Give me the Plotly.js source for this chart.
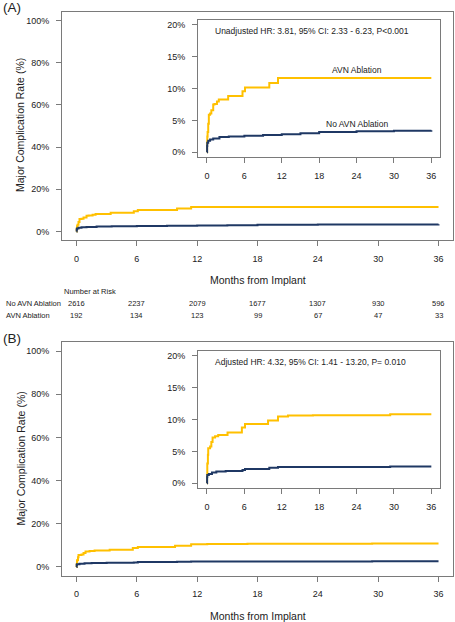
<!DOCTYPE html>
<html><head><meta charset="utf-8">
<script src="https://cdn.plot.ly/plotly-3.0.1.min.js"></script>
<style>html,body{margin:0;padding:0;background:#fff}#chart{width:455px;height:622px}</style>
</head><body><div id="chart"></div>
<script>
// ---------- data ----------
const riskMonths = [0, 6, 12, 18, 24, 30, 36];
const riskNoAvn = [2616, 2237, 2079, 1677, 1307, 930, 596];
const riskAvn = [192, 134, 123, 99, 67, 47, 33];

// Panel A (unadjusted) cumulative incidence, %
const aAvnT   = [0, 0.02, 0.05, 0.1, 0.2, 0.3, 0.5, 0.7, 1.0, 1.2, 1.6, 1.9, 3.4, 5.7, 6.1, 10.0, 11.4, 36];
const aAvnY   = [0, 1.5, 2.5, 3.2, 4.5, 5.9, 6.1, 6.6, 7.5, 7.6, 8.0, 8.3, 8.85, 9.6, 10.2, 10.9, 11.67, 11.67];
const aNoT    = [0, 0.02, 0.05, 0.2, 0.5, 1, 2, 3.5, 6, 9, 12, 15, 18, 24, 30, 36];
const aNoY    = [0, 1.0, 1.5, 1.8, 2.0, 2.15, 2.4, 2.5, 2.6, 2.7, 2.85, 3.0, 3.2, 3.3, 3.4, 3.45];

// Panel B (adjusted) cumulative incidence, %
const bAvnT   = [0, 0.02, 0.05, 0.15, 0.2, 0.5, 0.7, 0.9, 1.3, 1.8, 3.3, 5.6, 6.1, 9.8, 11.4, 13, 17, 29.4, 36];
const bAvnY   = [0, 1.3, 3.1, 4.5, 5.5, 5.8, 6.5, 7.2, 7.4, 7.6, 8.0, 8.75, 9.3, 9.85, 10.5, 10.65, 10.7, 10.85, 10.85];
const bNoT    = [0, 0.02, 0.05, 0.3, 0.8, 1.5, 3, 5.7, 6.1, 10, 11.4, 29.4, 36];
const bNoY    = [0, 1.0, 1.3, 1.45, 1.7, 1.85, 1.95, 2.1, 2.25, 2.45, 2.55, 2.65, 2.65];

const mainTicks = [0, 20, 40, 60, 80, 100];
const insetTicks = [0, 5, 10, 15, 20];
const xTicks = [0, 6, 12, 18, 24, 30, 36];

const hrA = 'Unadjusted HR: 3.81, 95% CI: 2.33 - 6.23, P<0.001';
const hrB = 'Adjusted HR: 4.32, 95% CI: 1.41 - 13.20, P= 0.010';

// ---------- style ----------
const W = 455, H = 622;
const GOLD = '#FFC000', NAVY = '#1F3864';
const FONT = 'Liberation Sans, Arial, sans-serif';
const TXT = '#222';
const FRAME = '#7a7a7a';
const fx = p => p / W;
const fy = p => 1 - p / H;

function curve(t, y, color, xa, ya, w) {
  return {x: t, y: y, xaxis: xa, yaxis: ya, type: 'scatter', mode: 'lines',
    line: {shape: 'hv', color: color, width: w}, hoverinfo: 'skip', showlegend: false};
}

const traces = [
  curve(aAvnT, aAvnY, GOLD, 'x', 'y', 2), curve(aNoT, aNoY, NAVY, 'x', 'y', 2),
  curve(aAvnT, aAvnY, GOLD, 'x2', 'y2', 2), curve(aNoT, aNoY, NAVY, 'x2', 'y2', 2),
  curve(bAvnT, bAvnY, GOLD, 'x3', 'y3', 2), curve(bNoT, bNoY, NAVY, 'x3', 'y3', 2),
  curve(bAvnT, bAvnY, GOLD, 'x4', 'y4', 2), curve(bNoT, bNoY, NAVY, 'x4', 'y4', 2)
];

function xax(domain, anchor) {
  return {domain: domain, anchor: anchor, range: [-1.44, 37.44], tickvals: xTicks,
    ticktext: xTicks.map(String), ticks: 'outside', ticklen: 5, tickcolor: FRAME, tickwidth: 1,
    showline: true, mirror: true, linecolor: FRAME, linewidth: 1, showgrid: false, zeroline: false,
    ticklabelstandoff: 5, tickfont: {family: FONT, size: 9, color: TXT}, fixedrange: true};
}
function yax(domain, anchor, range, ticks) {
  return {domain: domain, anchor: anchor, range: range, tickvals: ticks,
    ticktext: ticks.map(v => v + '%'), ticks: 'outside', ticklen: 5, tickcolor: FRAME, tickwidth: 1,
    showline: true, mirror: true, linecolor: FRAME, linewidth: 1, showgrid: false, zeroline: false,
    ticklabelstandoff: 5, tickfont: {family: FONT, size: 9, color: TXT}, fixedrange: true};
}

const mainX = [fx(62), fx(453)];
const insetX = [fx(198), fx(440.3)];

const layout = {
  width: W, height: H, margin: {l: 0, r: 0, t: 0, b: 0},
  paper_bgcolor: '#fff', plot_bgcolor: '#fff', showlegend: false,
  font: {family: FONT, color: TXT},
  xaxis: xax(mainX, 'y'), yaxis: yax([fy(240), fy(12)], 'x', [-4, 104], mainTicks),
  xaxis2: xax(insetX, 'y2'), yaxis2: yax([fy(157.4), fy(19.9)], 'x2', [-0.8, 20.8], insetTicks),
  xaxis3: xax(mainX, 'y3'), yaxis3: yax([fy(575.6), fy(342.4)], 'x3', [-4, 104], mainTicks),
  xaxis4: xax(insetX, 'y4'), yaxis4: yax([fy(488.4), fy(350.9)], 'x4', [-0.8, 20.8], insetTicks),
  annotations: []
};

const ann = layout.annotations;
function txt(text, x, y, size, opts) {
  ann.push(Object.assign({text: text, x: x, y: y, xref: 'paper', yref: 'paper', showarrow: false,
    xanchor: 'center', yanchor: 'middle', font: {family: FONT, size: size, color: TXT}}, opts || {}));
}
// panel labels
txt('(A)', fx(1), fy(8), 13.5, {xanchor: 'left'});
txt('(B)', fx(1), fy(338), 13.5, {xanchor: 'left'});
// axis titles
txt('Major Complication Rate (%)', fx(20), fy(125), 10.5, {textangle: -90});
txt('Major Complication Rate (%)', fx(20), fy(458.5), 10.5, {textangle: -90});
txt('Months from Implant', fx(258), fy(280), 10.5);
txt('Months from Implant', fx(258), fy(615.5), 10.5);
// HR text
txt(hrA, fx(212.5), fy(30.7), 8.5, {xanchor: 'left'});
txt(hrB, fx(212.5), fy(361.7), 8.5, {xanchor: 'left'});
// curve labels in inset A
ann.push({text: 'AVN Ablation', x: 24.0, y: 12.93, xref: 'x2', yref: 'y2', showarrow: false,
  font: {family: FONT, size: 8.5, color: TXT}});
ann.push({text: 'No AVN Ablation', x: 24.1, y: 4.45, xref: 'x2', yref: 'y2', showarrow: false,
  font: {family: FONT, size: 8.5, color: TXT}});
// number at risk
txt('Number at Risk', fx(62), fy(291), 7.5, {xanchor: 'left'});
txt('No AVN Ablation', fx(4), fy(303.3), 7.5, {xanchor: 'left'});
txt('AVN Ablation', fx(4), fy(315), 7.5, {xanchor: 'left'});
riskMonths.forEach((m, i) => {
  ann.push({text: String(riskNoAvn[i]), x: m, y: fy(303.3), xref: 'x', yref: 'paper', showarrow: false,
    font: {family: FONT, size: 7.5, color: TXT}});
  ann.push({text: String(riskAvn[i]), x: m, y: fy(315), xref: 'x', yref: 'paper', showarrow: false,
    font: {family: FONT, size: 7.5, color: TXT}});
});

Plotly.newPlot('chart', traces, layout, {displayModeBar: false, staticPlot: true});
</script>
</body></html>
